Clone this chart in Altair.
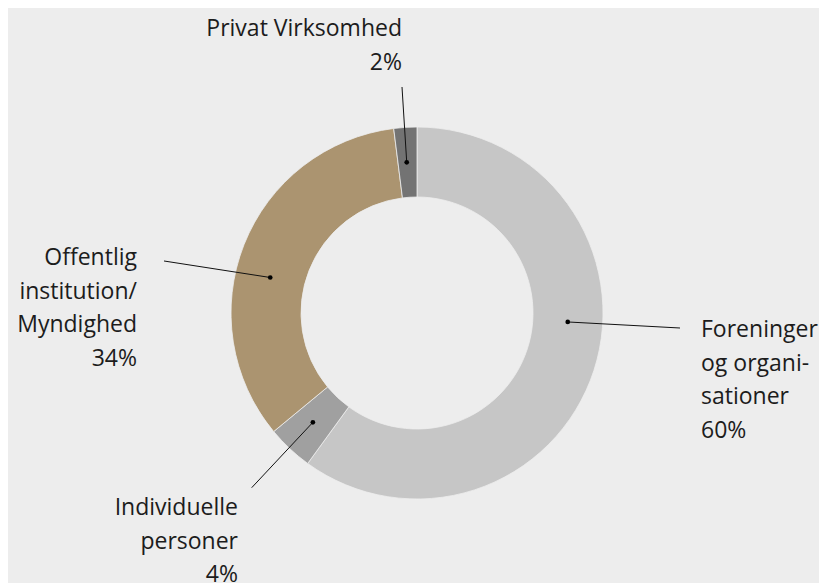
import math
import altair as alt
import pandas as pd

# ---- data ----
categories = ["Foreninger og organisationer", "Individuelle personer",
              "Offentlig institution/Myndighed", "Privat Virksomhed"]
values = [60, 4, 34, 2]
label_lines = [["Foreninger", "og organi-", "sationer"],
               ["Individuelle", "personer"],
               ["Offentlig", "institution/", "Myndighed"],
               ["Privat Virksomhed"]]

# ---- layout / style ----
colors = ["#c6c6c6", "#a0a0a0", "#ab9470", "#737373"]
BG = "#ededed"
FONT = "Open Sans"
CX, CY = 409, 305
R_OUT, R_IN, R_DOT = 186, 116, 151
dot_angle = [93.4, 223.6, 283.6, 356.1]
line_end = [(672, 320), (243.7, 479.7), (156, 253), (394, 79)]
label_pos = [(693, 329, "left"), (230, 507, "right"), (129, 257, "right"), (394, 28, "right")]

rows = []
for i, (c, v) in enumerate(zip(categories, values)):
    a = math.radians(dot_angle[i])
    dx = CX + R_DOT * math.sin(a)
    dy = CY - R_DOT * math.cos(a)
    rows.append({
        "category": c, "value": v, "order": i,
        "dx": dx, "dy": dy,
        "lx": line_end[i][0], "ly": line_end[i][1],
        "tx": label_pos[i][0], "ty": label_pos[i][1], "align": label_pos[i][2],
        "label": "\n".join(label_lines[i] + [f"{v}%"]),
    })
df = pd.DataFrame(rows)

base = alt.Chart(df)

arcs = base.mark_arc(outerRadius=R_OUT, innerRadius=R_IN, stroke=BG, strokeWidth=0.8).encode(
    theta=alt.Theta("value:Q", stack=True),
    order=alt.Order("order:Q"),
    color=alt.Color("category:N", scale=alt.Scale(domain=categories, range=colors), legend=None),
    x=alt.value(CX), y=alt.value(CY),
)

lines = base.mark_rule(color="#111111", strokeWidth=1).encode(
    x=alt.X("dx:Q", scale=None), y=alt.Y("dy:Q", scale=None),
    x2="lx:Q", y2="ly:Q",
)

dots = base.mark_circle(color="#000000", opacity=1, size=22).encode(
    x=alt.X("dx:Q", scale=None), y=alt.Y("dy:Q", scale=None),
)

def text_layer(al):
    return base.transform_filter(alt.datum.align == al).mark_text(
        align=al, baseline="alphabetic", font=FONT, fontSize=23, lineHeight=33.5,
        lineBreak="\n", color="#1c1c1c",
    ).encode(
        x=alt.X("tx:Q", scale=None), y=alt.Y("ty:Q", scale=None), text="label:N",
    )

chart = alt.layer(arcs, lines, dots, text_layer("left"), text_layer("right")).properties(
    width=811, height=575, autosize="none", padding=0, background=BG,
).configure_view(stroke=None)

chart.save("out.html", embed_options={"renderer": "svg", "actions": False})
